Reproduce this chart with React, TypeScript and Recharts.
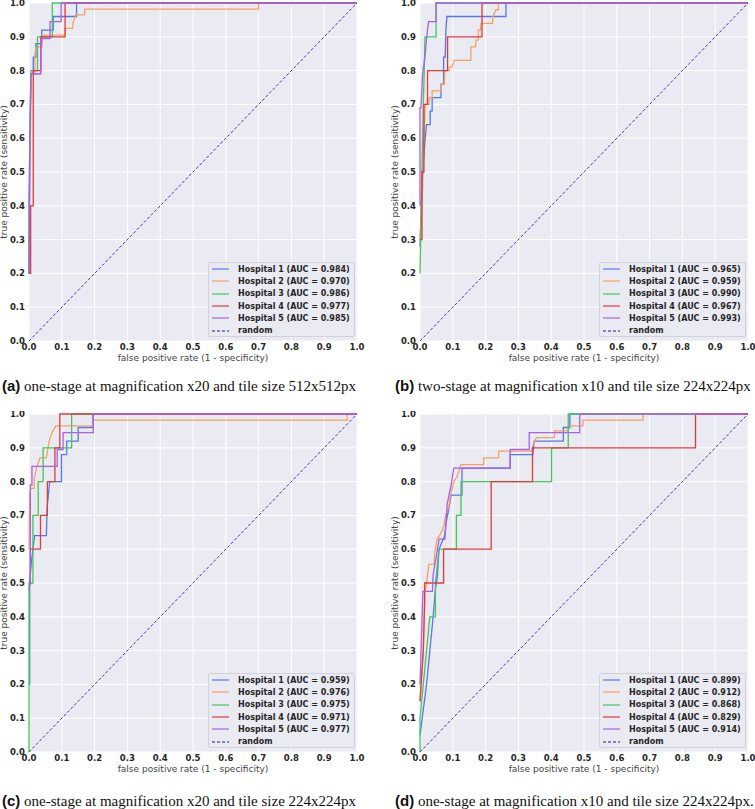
import React from "react";
import { LineChart, Line, XAxis, YAxis, CartesianGrid, Legend } from "recharts";

type Pt = [number, number];

const HOSPITALS = ["Hospital 1", "Hospital 2", "Hospital 3", "Hospital 4", "Hospital 5"];
const COLORS = ["#5677f0", "#f5a261", "#44c756", "#e23a3a", "#a95ff0"];
const RANDOM_COLOR = "#3c3ca8";
const TICKS = [0, 0.1, 0.2, 0.3, 0.4, 0.5, 0.6, 0.7, 0.8, 0.9, 1.0];
const X_LABEL = "false positive rate (1 - specificity)";
const Y_LABEL = "true positive rate (sensitivity)";
const RANDOM: Pt[] = [[0, 0], [1, 1]];

// (a) one-stage x20, 512px
const AUC_A = [0.984, 0.97, 0.986, 0.977, 0.985];
const A_H1: Pt[] = [[0, 0.2], [0, 0.42], [0.003, 0.63], [0.006, 0.79], [0.013, 0.79], [0.013, 0.84], [0.021, 0.84], [0.021, 0.88], [0.039, 0.88], [0.039, 0.92], [0.074, 0.92], [0.074, 0.96], [0.145, 0.96], [0.145, 1], [1, 1]];
const A_H2: Pt[] = [[0, 0.2], [0.002, 0.53], [0.004, 0.6], [0.007, 0.79], [0.018, 0.79], [0.018, 0.85], [0.023, 0.87], [0.039, 0.87], [0.039, 0.9], [0.045, 0.905], [0.11, 0.905], [0.11, 0.925], [0.133, 0.925], [0.135, 0.945], [0.143, 0.965], [0.17, 0.965], [0.17, 0.982], [0.7, 0.982], [0.7, 1], [1, 1]];
const A_H3: Pt[] = [[0, 0.2], [0.002, 0.5], [0.004, 0.7], [0.006, 0.8], [0.026, 0.8], [0.026, 0.9], [0.071, 0.9], [0.071, 1], [1, 1]];
const A_H4: Pt[] = [[0, 0.2], [0.005, 0.2], [0.005, 0.4], [0.013, 0.4], [0.013, 0.8], [0.036, 0.8], [0.036, 0.9], [0.11, 0.9], [0.11, 1], [1, 1]];
const A_H5: Pt[] = [[0, 0.2], [0.003, 0.6], [0.006, 0.79], [0.036, 0.79], [0.036, 0.895], [0.064, 0.895], [0.064, 0.945], [0.098, 0.945], [0.098, 1], [1, 1]];

// (b) two-stage x10, 224px
const AUC_B = [0.965, 0.959, 0.99, 0.967, 0.993];
const B_H1: Pt[] = [[0, 0.28], [0.004, 0.4], [0.008, 0.5], [0.016, 0.6], [0.02, 0.64], [0.031, 0.64], [0.031, 0.68], [0.037, 0.68], [0.037, 0.72], [0.064, 0.72], [0.064, 0.76], [0.072, 0.76], [0.072, 0.84], [0.077, 0.84], [0.079, 0.92], [0.082, 0.96], [0.262, 0.96], [0.262, 1], [1, 1]];
const B_H2: Pt[] = [[0, 0.3], [0.008, 0.45], [0.012, 0.6], [0.016, 0.7], [0.028, 0.7], [0.028, 0.72], [0.037, 0.72], [0.037, 0.74], [0.064, 0.74], [0.064, 0.76], [0.074, 0.76], [0.076, 0.8], [0.089, 0.8], [0.089, 0.81], [0.097, 0.81], [0.105, 0.83], [0.155, 0.83], [0.155, 0.87], [0.169, 0.87], [0.171, 0.89], [0.177, 0.89], [0.178, 0.92], [0.184, 0.92], [0.186, 0.94], [0.221, 0.94], [0.223, 0.96], [0.231, 0.98], [0.239, 0.98], [0.239, 1], [1, 1]];
const B_H3: Pt[] = [[0, 0.2], [0.004, 0.4], [0.008, 0.6], [0.01, 0.7], [0.013, 0.8], [0.015, 0.9], [0.049, 0.9], [0.049, 1], [1, 1]];
const B_H4: Pt[] = [[0, 0.3], [0.006, 0.3], [0.006, 0.5], [0.012, 0.5], [0.012, 0.7], [0.023, 0.7], [0.023, 0.8], [0.084, 0.8], [0.084, 0.9], [0.189, 0.9], [0.189, 1], [1, 1]];
const B_H5: Pt[] = [[0, 0.4], [0, 0.69], [0.003, 0.69], [0.008, 0.79], [0.015, 0.84], [0.02, 0.895], [0.026, 0.945], [0.049, 0.945], [0.049, 1], [1, 1]];

// (c) one-stage x20, 224px
const AUC_C = [0.959, 0.976, 0.975, 0.971, 0.977];
const C_H1: Pt[] = [[0, 0.2], [0.002, 0.2], [0.002, 0.5], [0.007, 0.56], [0.017, 0.64], [0.053, 0.64], [0.055, 0.72], [0.059, 0.76], [0.063, 0.8], [0.099, 0.8], [0.099, 0.88], [0.115, 0.88], [0.115, 0.92], [0.15, 0.92], [0.15, 0.96], [0.195, 0.96], [0.195, 1], [1, 1]];
const C_H2: Pt[] = [[0, 0.6], [0.002, 0.76], [0.005, 0.78], [0.016, 0.78], [0.016, 0.81], [0.023, 0.84], [0.028, 0.855], [0.033, 0.87], [0.053, 0.87], [0.056, 0.89], [0.063, 0.925], [0.07, 0.945], [0.082, 0.965], [0.196, 0.965], [0.196, 0.982], [0.97, 0.982], [0.97, 1], [1, 1]];
const C_H3: Pt[] = [[0, 0], [0, 0.5], [0.012, 0.5], [0.012, 0.7], [0.028, 0.7], [0.028, 0.8], [0.043, 0.8], [0.043, 0.9], [0.13, 0.9], [0.13, 1], [1, 1]];
const C_H4: Pt[] = [[0, 0.5], [0.004, 0.5], [0.004, 0.6], [0.035, 0.6], [0.035, 0.7], [0.056, 0.7], [0.056, 0.8], [0.079, 0.8], [0.079, 0.9], [0.094, 0.9], [0.094, 1], [1, 1]];
const C_H5: Pt[] = [[0, 0.48], [0.004, 0.5], [0.004, 0.79], [0.009, 0.79], [0.009, 0.845], [0.086, 0.845], [0.086, 0.895], [0.104, 0.895], [0.104, 0.945], [0.196, 0.945], [0.196, 1], [1, 1]];

// (d) one-stage x10, 224px
const AUC_D = [0.899, 0.912, 0.868, 0.829, 0.914];
const D_H1: Pt[] = [[0, 0.05], [0.02, 0.2], [0.03, 0.3], [0.04, 0.4], [0.047, 0.48], [0.053, 0.52], [0.058, 0.6], [0.075, 0.64], [0.08, 0.68], [0.088, 0.72], [0.095, 0.76], [0.128, 0.76], [0.128, 0.84], [0.275, 0.84], [0.275, 0.88], [0.344, 0.88], [0.348, 0.92], [0.437, 0.92], [0.437, 0.96], [0.457, 0.96], [0.457, 1], [1, 1]];
const D_H2: Pt[] = [[0, 0.15], [0.01, 0.3], [0.015, 0.47], [0.02, 0.5], [0.027, 0.555], [0.043, 0.555], [0.045, 0.59], [0.052, 0.63], [0.063, 0.645], [0.073, 0.67], [0.078, 0.7], [0.088, 0.725], [0.093, 0.76], [0.103, 0.8], [0.113, 0.815], [0.125, 0.85], [0.194, 0.85], [0.194, 0.87], [0.24, 0.87], [0.24, 0.89], [0.34, 0.89], [0.345, 0.91], [0.355, 0.93], [0.41, 0.93], [0.41, 0.95], [0.452, 0.95], [0.452, 0.965], [0.497, 0.965], [0.497, 0.982], [0.68, 0.982], [0.68, 1], [1, 1]];
const D_H3: Pt[] = [[0, 0], [0, 0.1], [0.01, 0.2], [0.02, 0.3], [0.03, 0.4], [0.047, 0.4], [0.047, 0.5], [0.058, 0.6], [0.111, 0.6], [0.111, 0.7], [0.125, 0.7], [0.125, 0.8], [0.401, 0.8], [0.401, 0.9], [0.452, 0.9], [0.452, 1], [1, 1]];
const D_H4: Pt[] = [[0, 0.15], [0.01, 0.3], [0.014, 0.44], [0.014, 0.5], [0.072, 0.5], [0.072, 0.6], [0.217, 0.6], [0.217, 0.8], [0.343, 0.8], [0.343, 0.9], [0.84, 0.9], [0.84, 1], [1, 1]];
const D_H5: Pt[] = [[0, 0.2], [0.009, 0.475], [0.038, 0.475], [0.04, 0.525], [0.05, 0.58], [0.058, 0.63], [0.076, 0.63], [0.083, 0.735], [0.095, 0.79], [0.103, 0.84], [0.275, 0.84], [0.275, 0.895], [0.333, 0.895], [0.333, 0.945], [0.487, 0.945], [0.487, 1], [1, 1]];

const CAPTION_TAGS = ["(a)", "(b)", "(c)", "(d)"];
const CAPTION_TEXTS = [
  "one-stage at magnification x20 and tile size 512x512px",
  "two-stage at magnification x10 and tile size 224x224px",
  "one-stage at magnification x20 and tile size 224x224px",
  "one-stage at magnification x10 and tile size 224x224px.",
];

const FONT = "'DejaVu Sans', sans-serif";
const fmt = (v: number) => v.toFixed(1);
const toRows = (pts: Pt[]) => pts.map(([fpr, tpr]) => ({ fpr, tpr }));

const panels = [
  { left: 0, top: 0, curves: [A_H1, A_H2, A_H3, A_H4, A_H5], auc: AUC_A },
  { left: 391, top: 0, curves: [B_H1, B_H2, B_H3, B_H4, B_H5], auc: AUC_B },
  { left: 0, top: 411, curves: [C_H1, C_H2, C_H3, C_H4, C_H5], auc: AUC_C },
  { left: 391, top: 411, curves: [D_H1, D_H2, D_H3, D_H4, D_H5], auc: AUC_D },
];

function LegendBox({ auc }: { auc: number[] }) {
  const rows = HOSPITALS.map((h, i) => ({
    label: `${h} (AUC = ${auc[i].toFixed(3)})`,
    color: COLORS[i],
    dash: undefined as string | undefined,
  }));
  rows.push({ label: "random", color: RANDOM_COLOR, dash: "3 2" });
  return (
    <div
      style={{
        width: 145,
        height: 73,
        border: "1px solid #d2d2da",
        borderRadius: 2,
        background: "#eaeaf2",
        fontFamily: FONT,
        fontSize: 8,
        fontWeight: 700,
        color: "#262626",
        paddingTop: 0,
        boxSizing: "content-box",
      }}
    >
      {rows.map((r) => (
        <div key={r.label} style={{ height: 12.3, display: "flex", alignItems: "center", whiteSpace: "nowrap" }}>
          <svg width={26} height={6} style={{ marginLeft: 3, marginRight: 0, flex: "none" }}>
            <line x1={0} y1={3} x2={17} y2={3} stroke={r.color} strokeWidth={1.5} strokeDasharray={r.dash} strokeOpacity={0.8} />
          </svg>
          <span>{r.label}</span>
        </div>
      ))}
    </div>
  );
}

function RocPanel({ left, top, curves, auc }: { left: number; top: number; curves: Pt[][]; auc: number[] }) {
  return (
    <div style={{ position: "absolute", left, top }}>
      <LineChart width={366} height={380} margin={{ top: 3, right: 9, bottom: 0, left: 0 }}>
        <CartesianGrid stroke="#ffffff" fill="#eaeaf2" strokeWidth={1} />
        <XAxis
          type="number"
          dataKey="fpr"
          domain={[0, 1]}
          ticks={TICKS}
          tickFormatter={fmt}
          height={39}
          axisLine={false}
          tickLine={false}
          tickSize={0}
          tickMargin={3}
          interval={0}
          tick={{ fontSize: 8.5, fontWeight: 700, fill: "#262626", fontFamily: FONT }}
          label={{ value: X_LABEL, position: "insideBottom", offset: 19, style: { fontSize: 9, fill: "#444", fontFamily: FONT } }}
        />
        <YAxis
          type="number"
          domain={[0, 1]}
          ticks={TICKS}
          tickFormatter={fmt}
          width={29}
          axisLine={false}
          tickLine={false}
          tickSize={0}
          tickMargin={4}
          interval={0}
          tick={{ fontSize: 8.5, fontWeight: 700, fill: "#262626", fontFamily: FONT }}
          label={{ value: Y_LABEL, angle: -90, position: "insideLeft", offset: 4, style: { fontSize: 9, fill: "#444", fontFamily: FONT, textAnchor: "middle" } }}
        />
        {curves.map((c, i) => (
          <Line
            key={HOSPITALS[i]}
            data={toRows(c)}
            dataKey="tpr"
            name={HOSPITALS[i]}
            type="linear"
            stroke={COLORS[i]}
            strokeWidth={1.3}
            dot={false}
            activeDot={false}
            isAnimationActive={false}
          />
        ))}
        <Line
          data={toRows(RANDOM)}
          dataKey="tpr"
          name="random"
          type="linear"
          stroke={RANDOM_COLOR}
          strokeWidth={1}
          strokeDasharray="3 2"
          dot={false}
          activeDot={false}
          isAnimationActive={false}
        />
        <Legend
          layout="vertical"
          align="center"
          verticalAlign="middle"
          wrapperStyle={{ left: 208, top: 262, width: 147, height: 75 }}
          content={() => <LegendBox auc={auc} />}
        />
      </LineChart>
    </div>
  );
}

export default function App() {
  return (
    <div style={{ position: "absolute", left: 0, top: 0, width: 755, height: 809, background: "#fff", overflow: "hidden" }}>
      {panels.map((p, i) => (
        <RocPanel key={i} {...p} />
      ))}
      {CAPTION_TEXTS.map((t, i) => (
        <div
          key={t}
          style={{
            position: "absolute",
            left: i % 2 === 0 ? 2 : 395,
            top: i < 2 ? 377 : 792,
            fontFamily: "'Liberation Serif', serif",
            fontSize: 15,
            lineHeight: "17px",
            color: "#111",
            whiteSpace: "nowrap",
          }}
        >
          <span style={{ fontFamily: "'Liberation Sans', sans-serif", fontWeight: 700 }}>{CAPTION_TAGS[i]}</span> {t}
        </div>
      ))}
    </div>
  );
}
